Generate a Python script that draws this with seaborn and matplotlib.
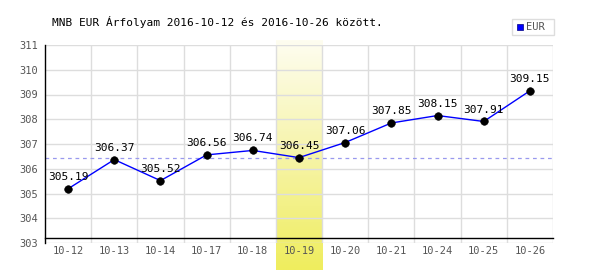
import numpy as np
import matplotlib
matplotlib.use("Agg")
import matplotlib.pyplot as plt
import seaborn as sns
import pandas as pd
from matplotlib.colors import LinearSegmentedColormap
from matplotlib.patches import Rectangle

dates = ["10-12", "10-13", "10-14", "10-17", "10-18", "10-19", "10-20",
         "10-21", "10-24", "10-25", "10-26"]
rates = [305.19, 306.37, 305.52, 306.56, 306.74, 306.45, 307.06,
         307.85, 308.15, 307.91, 309.15]
highlight = "10-19"
ref_value = 306.45
title = "MNB EUR Árfolyam 2016-10-12 és 2016-10-26 között."
series_name = "EUR"

df = pd.DataFrame({"date": dates, "rate": rates})
df["x"] = np.arange(len(dates))

sns.set_style("white")
plt.rcParams["font.family"] = ["DejaVu Sans Mono", "DejaVu Sans"]

fig = plt.figure(figsize=(6, 2.7), dpi=100)
ax = fig.add_axes([45 / 600, 1 - 243 / 270, 508 / 600, 198 / 270])

# highlight band with vertical gradient
hi = dates.index(highlight)
cmap = LinearSegmentedColormap.from_list(
    "band", [(0, "#fefdf0"), (0.45, "#f7f5b0"), (1, "#efed5e")])
grad = np.linspace(0, 1, 100).reshape(-1, 1)
ybot = 303 - 27 / 24.75
ytop = 311 + 5 / 24.75
ax.imshow(grad, cmap=cmap, aspect="auto", extent=[hi - 0.5, hi + 0.5, ybot, ytop],
          origin="upper", clip_on=False, zorder=0)
ax.set_xlim(-0.5, len(dates) - 0.5)
ax.set_ylim(303, 311)

# grid
for yv in range(303, 312):
    ax.axhline(yv, color="#dddddd", lw=1, zorder=0.5)
for xv in np.arange(0.5, len(dates), 1.0):
    ax.axvline(xv, color="#dddddd", lw=1, zorder=0.5)

ax.axhline(ref_value, color="#9999ee", lw=0.9, ls=(0, (3, 3)), zorder=1)

sns.lineplot(data=df, x="x", y="rate", ax=ax, color="#0000ff", lw=1,
             zorder=3, legend=False)
sns.scatterplot(data=df, x="x", y="rate", ax=ax, color="black", s=30,
                edgecolor="black", zorder=4, legend=False)

for xv, yv in zip(df["x"], df["rate"]):
    ax.annotate(f"{yv:.2f}", (xv, yv), xytext=(0, 5), textcoords="offset points",
                ha="center", va="bottom", fontsize=8, color="black", zorder=5)

ax.set_xticks(df["x"])
ax.set_xticklabels(dates)
ax.set_yticks(range(303, 312))
ax.tick_params(axis="both", length=0, labelsize=7.5, labelcolor="#555555")
ax.tick_params(axis="x", pad=6)
ax.tick_params(axis="y", pad=5)
ax.set_xlabel("")
ax.set_ylabel("")

for s in ["top", "right"]:
    ax.spines[s].set_visible(False)
ax.spines["left"].set_color("black")
ax.spines["left"].set_linewidth(1)
ax.spines["bottom"].set_color("black")
ax.spines["bottom"].set_linewidth(1)
ax.spines["bottom"].set_position(("data", 303.2))

fig.text(52 / 600, 1 - 22 / 270, title, fontsize=8, ha="left", va="center", color="black")

# legend box
fig.patches.append(Rectangle((512 / 600, 1 - 35 / 270), 42 / 600, 16 / 270,
                             transform=fig.transFigure, facecolor="white",
                             edgecolor="#dddddd", lw=1))
fig.patches.append(Rectangle((517 / 600, 1 - 30 / 270), 6 / 600, 6 / 270,
                             transform=fig.transFigure, facecolor="#0000ff",
                             edgecolor="#000080", lw=0.5))
fig.text(526 / 600, 1 - 27 / 270, series_name, fontsize=7.5, ha="left",
         va="center", color="#555555")

fig.savefig("out.png", dpi=100)
